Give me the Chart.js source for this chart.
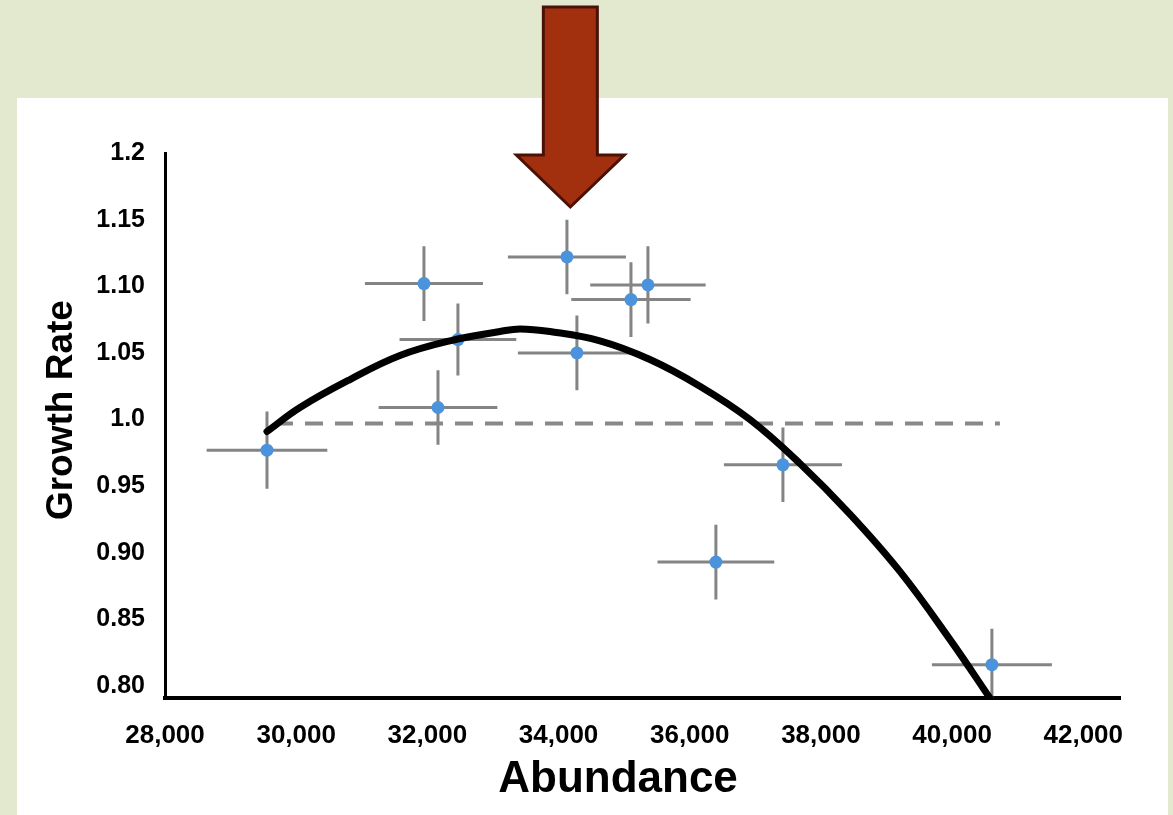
<!DOCTYPE html>
<html>
<head>
<meta charset="utf-8">
<script src="https://cdn.jsdelivr.net/npm/chart.js@4/dist/chart.umd.min.js"></script>
<style>
  html, body { margin: 0; padding: 0; }
  body { background: #e3e9cf; width: 1173px; height: 815px; position: relative; overflow: hidden; }
  #panel { position: absolute; left: 17px; top: 98px; width: 1151px; height: 717px; background: #fff; }
  #chart { position: absolute; left: 0; top: 0; }
</style>
</head>
<body>
<div id="panel"></div>
<canvas id="chart" width="1173" height="815"></canvas>
<script>
// observed points
var abundance = [29555, 31948, 32466, 32162, 34128, 35104, 35363, 34280, 37421, 36399, 40607];
var growthRate = [0.977, 1.102, 1.060, 1.009, 1.122, 1.090, 1.101, 1.050, 0.966, 0.893, 0.816];
var xErr = [920, 900, 890, 905, 900, 910, 880, 900, 900, 890, 915];
var yErr = [0.029, 0.028, 0.027, 0.028, 0.028, 0.028, 0.029, 0.028, 0.028, 0.028, 0.027];

// fitted curve
var curveX = [29555, 30058, 30820, 31582, 32345, 33107, 33412, 33869, 34631, 35393, 36155, 36918, 37680, 38442, 39204, 39966, 40576];
var curveY = [0.991, 1.009, 1.030, 1.048, 1.059, 1.066, 1.068, 1.066, 1.059, 1.045, 1.025, 1.000, 0.967, 0.929, 0.886, 0.835, 0.791];

// replacement line (growth rate = 1)
var refX = [29677, 40729];
var refY = [0.997, 0.997];

// axes
var xTicks = [28000, 30000, 32000, 34000, 36000, 38000, 40000, 42000];
var yTicks = [0.80, 0.85, 0.90, 0.95, 1.0, 1.05, 1.10, 1.15, 1.2];
var yTickLabels = ['0.80', '0.85', '0.90', '0.95', '1.0', '1.05', '1.10', '1.15', '1.2'];
var arrowAt = 34180;

var points = abundance.map(function (x, i) { return { x: x, y: growthRate[i] }; });
var curve = curveX.map(function (x, i) { return { x: x, y: curveY[i] }; });
var ref = refX.map(function (x, i) { return { x: x, y: refY[i] }; });

// error bars as one broken line
var errorBars = [];
abundance.forEach(function (x, i) {
  var y = growthRate[i];
  errorBars.push({ x: x - xErr[i], y: y }, { x: x + xErr[i], y: y }, { x: x, y: null });
  errorBars.push({ x: x, y: y - yErr[i] }, { x: x, y: y + yErr[i] }, { x: x, y: null });
});

var arrowPlugin = {
  id: 'arrow',
  afterDraw: function (chart) {
    var c = chart.ctx;
    var cx = chart.scales.x.getPixelForValue(arrowAt);
    var top = 7, neck = chart.chartArea.top + 2, tip = neck + 52;
    c.save();
    c.beginPath();
    c.moveTo(cx - 27, top);
    c.lineTo(cx + 27, top);
    c.lineTo(cx + 27, neck);
    c.lineTo(cx + 54, neck);
    c.lineTo(cx, tip);
    c.lineTo(cx - 54, neck);
    c.lineTo(cx - 27, neck);
    c.closePath();
    c.fillStyle = '#a2300f';
    c.fill();
    c.lineWidth = 3;
    c.lineJoin = 'miter';
    c.strokeStyle = '#4a1206';
    c.stroke();
    c.restore();
  }
};

var font = 'Liberation Sans';

new Chart(document.getElementById('chart').getContext('2d'), {
  type: 'scatter',
  data: {
    datasets: [
      {
        data: curve,
        showLine: true,
        borderColor: '#000',
        borderWidth: 7,
        tension: 0.4,
        pointRadius: 0,
        borderCapStyle: 'round'
      },
      {
        data: points,
        backgroundColor: '#4b93dc',
        borderWidth: 0,
        pointRadius: 6.5
      },
      {
        data: ref,
        showLine: true,
        borderColor: '#888',
        borderWidth: 4,
        borderDash: [18, 12],
        pointRadius: 0
      },
      {
        data: errorBars,
        showLine: true,
        spanGaps: false,
        borderColor: 'rgba(110,110,110,0.85)',
        borderWidth: 3,
        pointRadius: 0
      }
    ]
  },
  options: {
    responsive: false,
    animation: false,
    layout: { padding: { left: 0, top: 153, right: 53, bottom: 0 } },
    plugins: { legend: { display: false }, tooltip: { enabled: false } },
    scales: {
      x: {
        type: 'linear',
        min: 28000,
        max: 42560,
        afterBuildTicks: function (s) { s.ticks = xTicks.map(function (v) { return { value: v }; }); },
        afterFit: function (s) { s.height = 117; },
        grid: { display: false },
        border: { display: true, color: '#000', width: 4 },
        ticks: {
          color: '#000',
          padding: 14,
          maxRotation: 0,
          font: { family: font, size: 26, weight: 'bold' },
          callback: function (v) { return v.toLocaleString('en-US'); }
        },
        title: {
          display: true,
          text: 'Abundance    ',
          color: '#000',
          font: { family: font, size: 44, weight: 'bold' },
          padding: { top: 0, bottom: 9 }
        }
      },
      y: {
        min: 0.791,
        max: 1.2,
        afterBuildTicks: function (s) { s.ticks = yTicks.map(function (v) { return { value: v }; }); },
        afterFit: function (s) { s.width = 165; },
        grid: { display: false },
        border: { display: true, color: '#000', width: 3 },
        ticks: {
          color: '#000',
          padding: 12,
          font: { family: font, size: 25, weight: 'bold' },
          callback: function (v, i) { return yTickLabels[i]; }
        },
        title: {
          display: true,
          text: '   Growth Rate',
          color: '#000',
          font: { family: font, size: 37, weight: 'bold' },
          padding: { top: 40, bottom: 0 }
        }
      }
    }
  },
  plugins: [arrowPlugin]
});
</script>
</body>
</html>
